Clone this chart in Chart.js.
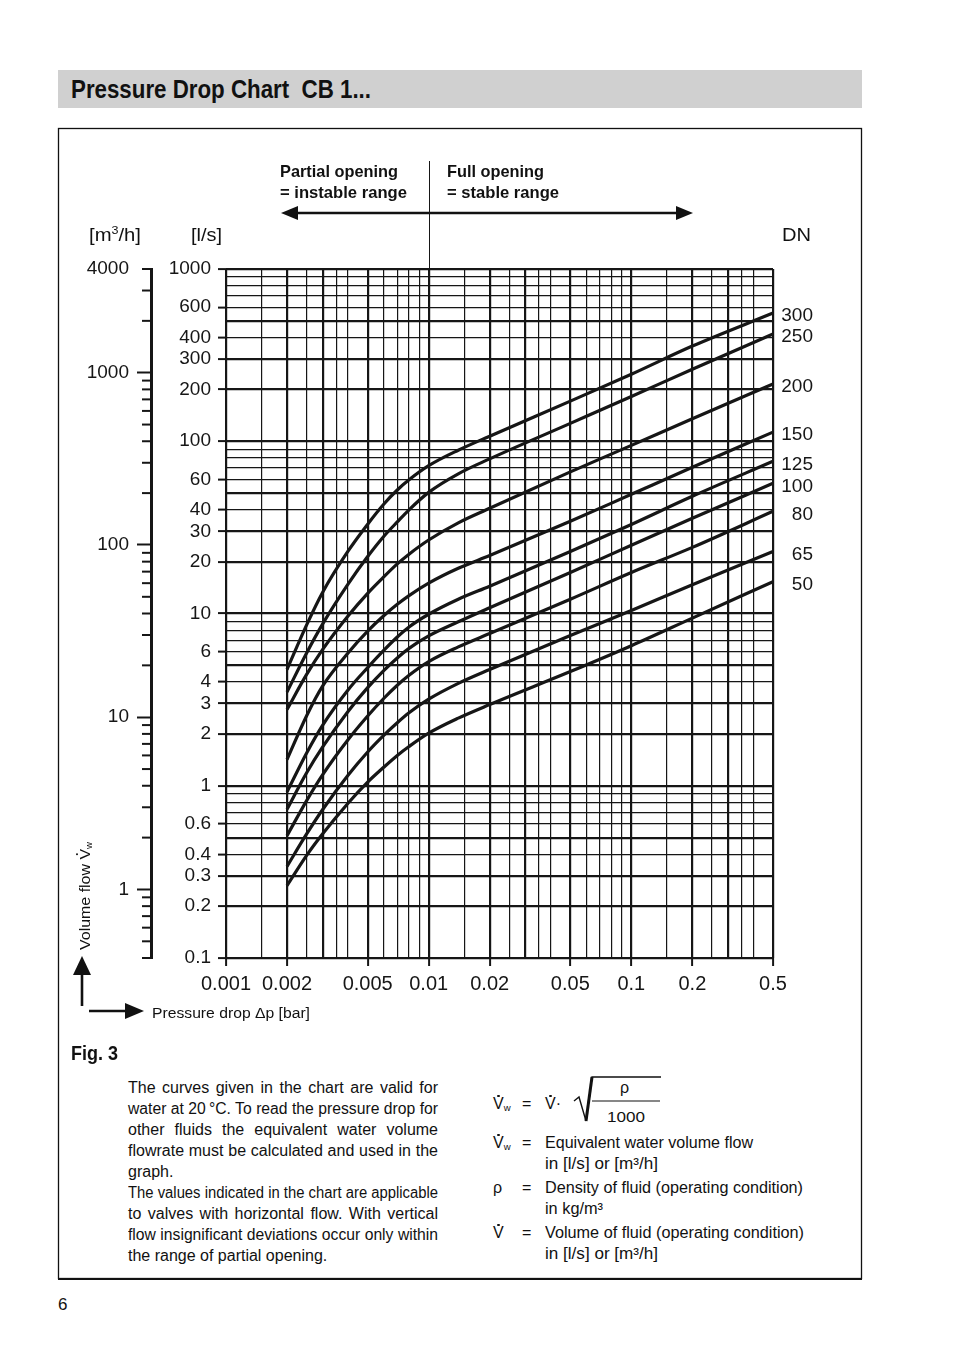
<!DOCTYPE html>
<html>
<head>
<meta charset="utf-8">
<script src="https://cdn.jsdelivr.net/npm/chart.js@4.4.1/dist/chart.umd.min.js"></script>
<style>
html, body { margin: 0; padding: 0; background: #fff; }
body { width: 954px; height: 1352px; position: relative; overflow: hidden;
       font-family: "Liberation Sans", Arial, sans-serif; color: #111; }
#chart { position: absolute; left: 60px; top: 140px; }
#deco { position: absolute; left: 0; top: 0; }
.t { position: absolute; white-space: nowrap; display: inline-block; transform-origin: 0 50%; }
.b { font-weight: bold; }
.j { position: absolute; left: 128px; font-size: 16px; line-height: 20px; transform-origin: 0 50%; }
.rot { position: absolute; white-space: nowrap; transform-origin: 0 0; font-size: 15px; line-height: 17px; }
sub { font-size: 60%; vertical-align: -2px; line-height: 0; }
sup { font-size: 62%; vertical-align: 7px; line-height: 0; }
.vd { position: relative; display: inline-block; }
.vd::after { content: ''; position: absolute; left: 50%; top: 0.5px; width: 2.6px; height: 2.6px;
             margin-left: -1.3px; border-radius: 50%; background: #111; }
.rot .vd::after { top: 0px; width: 2.4px; height: 2.4px; margin-left: -1.2px; }
</style>
</head>
<body>
<svg id="deco" width="954" height="1352">
  <rect x="58" y="70" width="804" height="38" fill="#d0d0d0"/>
  <rect x="58.5" y="128.5" width="803" height="1150" fill="none" stroke="#111" stroke-width="1.3"/>
  <line x1="58" y1="1279" x2="862" y2="1279" stroke="#111" stroke-width="2.2"/>
  <!-- range arrow -->
  <line x1="296" y1="213" x2="678" y2="213" stroke="#111" stroke-width="2.6"/>
  <polygon points="281,213 298,206 298,220" fill="#111"/>
  <polygon points="693,213 676,206 676,220" fill="#111"/>
  <!-- axis arrows -->
  <line x1="82" y1="1006" x2="82" y2="972" stroke="#111" stroke-width="2.6"/>
  <polygon points="82,956 73,975 91,975" fill="#111"/>
  <line x1="89" y1="1011" x2="128" y2="1011" stroke="#111" stroke-width="2.6"/>
  <polygon points="144,1011 125,1003 125,1019" fill="#111"/>
  <!-- radical -->
  <polyline points="574,1101 579,1097 586,1121 592,1077 661,1077" fill="none" stroke="#111" stroke-width="1.4"/>
  <line x1="586" y1="1121" x2="592" y2="1077" stroke="#111" stroke-width="3"/>
  <line x1="592" y1="1101" x2="660" y2="1101" stroke="#111" stroke-width="1.2"/>
</svg>

<canvas id="chart" width="760" height="880"></canvas>

<div class="t b" style="left:71px;top:74px;font-size:26px;line-height:30px" data-w="300">Pressure Drop Chart&nbsp; CB 1...</div>

<div class="t b" style="left:280px;top:162px;font-size:17px;line-height:20px" data-w="118">Partial opening</div>
<div class="t b" style="left:280px;top:183px;font-size:17px;line-height:20px" data-w="127">= instable range</div>
<div class="t b" style="left:447px;top:162px;font-size:17px;line-height:20px" data-w="97">Full opening</div>
<div class="t b" style="left:447px;top:183px;font-size:17px;line-height:20px" data-w="112">= stable range</div>

<div class="t" style="left:89px;top:224px;font-size:19px;line-height:22px" data-w="52">[m<sup>3</sup>/h]</div>
<div class="t" style="left:191px;top:224px;font-size:19px;line-height:22px" data-w="31">[l/s]</div>
<div class="t" style="left:782px;top:224px;font-size:19px;line-height:22px" data-w="29">DN</div>

<div class="rot" id="vflow" style="left:76px;top:950px">Volume flow <span class="vd">V</span><sub>w</sub></div>
<div class="t" style="left:152px;top:1003px;font-size:15.5px;line-height:20px" data-w="158">Pressure drop &Delta;p [bar]</div>
<div class="t b" style="left:71px;top:1041px;font-size:20px;line-height:24px" data-w="47">Fig. 3</div>

<div class="j" style="top:1078px">The curves given in the chart are valid for</div>
<div class="j" style="top:1099px">water at 20&thinsp;°C. To read the pressure drop for</div>
<div class="j" style="top:1120px">other fluids the equivalent water volume</div>
<div class="j" style="top:1141px">flowrate must be calculated and used in the</div>
<div class="j last" style="top:1162px">graph.</div>
<div class="j" style="top:1183px">The values indicated in the chart are applicable</div>
<div class="j" style="top:1204px">to valves with horizontal flow. With vertical</div>
<div class="j" style="top:1225px">flow insignificant deviations occur only within</div>
<div class="j last" style="top:1246px">the range of partial opening.</div>

<div class="t" style="left:493px;top:1094px;font-size:16px;line-height:20px"><span class="vd">V</span><sub>w</sub></div>
<div class="t" style="left:522px;top:1094px;font-size:16px;line-height:20px">=</div>
<div class="t" style="left:545px;top:1094px;font-size:16px;line-height:20px"><span class="vd">V</span>·</div>
<div class="t" style="left:620px;top:1078px;font-size:16px;line-height:20px">ρ</div>
<div class="t" style="left:607px;top:1108px;font-size:15px;line-height:18px" data-w="38">1000</div>

<div class="t" style="left:493px;top:1133px;font-size:16px;line-height:20px"><span class="vd">V</span><sub>w</sub></div>
<div class="t" style="left:522px;top:1133px;font-size:16px;line-height:20px">=</div>
<div class="t" style="left:545px;top:1133px;font-size:16px;line-height:20px" data-w="208">Equivalent water volume flow</div>
<div class="t" style="left:545px;top:1154px;font-size:16px;line-height:20px" data-w="113">in [l/s] or [m³/h]</div>
<div class="t" style="left:493px;top:1178px;font-size:16px;line-height:20px">ρ</div>
<div class="t" style="left:522px;top:1178px;font-size:16px;line-height:20px">=</div>
<div class="t" style="left:545px;top:1178px;font-size:16px;line-height:20px" data-w="258">Density of fluid (operating condition)</div>
<div class="t" style="left:545px;top:1199px;font-size:16px;line-height:20px" data-w="58">in kg/m³</div>
<div class="t" style="left:493px;top:1223px;font-size:16px;line-height:20px"><span class="vd">V</span></div>
<div class="t" style="left:522px;top:1223px;font-size:16px;line-height:20px">=</div>
<div class="t" style="left:545px;top:1223px;font-size:16px;line-height:20px" data-w="259">Volume of fluid (operating condition)</div>
<div class="t" style="left:545px;top:1244px;font-size:16px;line-height:20px" data-w="113">in [l/s] or [m³/h]</div>

<div class="t" style="left:58px;top:1295px;font-size:17px;line-height:20px">6</div>

<script>
// pressure drop [bar] - grid lines and labelled ticks
const dpTicks = [0.001, 0.0015, 0.002, 0.0025, 0.003, 0.0035, 0.004, 0.005, 0.006, 0.007, 0.008, 0.009,
                 0.01, 0.015, 0.02, 0.025, 0.03, 0.035, 0.04, 0.05, 0.06, 0.07, 0.08, 0.09,
                 0.1, 0.15, 0.2, 0.25, 0.3, 0.35, 0.4, 0.5];
const dpLabels = [0.001, 0.002, 0.005, 0.01, 0.02, 0.05, 0.1, 0.2, 0.5];

// volume flow [l/s]
const lsTicks = [0.1, 0.2, 0.3, 0.4, 0.5, 0.6, 0.7, 0.8, 0.9,
                 1, 2, 3, 4, 5, 6, 7, 8, 9,
                 10, 20, 30, 40, 50, 60, 70, 80, 90,
                 100, 200, 300, 400, 500, 600, 700, 800, 900, 1000];
const lsLabels = [0.1, 0.2, 0.3, 0.4, 0.6, 1, 2, 3, 4, 6, 10, 20, 30, 40, 60, 100, 200, 300, 400, 600, 1000];

// volume flow [m3/h]
const m3hTicks = [0.4, 0.5, 0.6, 0.7, 0.8, 0.9,
                  1, 2, 3, 4, 5, 6, 7, 8, 9,
                  10, 20, 30, 40, 50, 60, 70, 80, 90,
                  100, 200, 300, 400, 500, 600, 700, 800, 900,
                  1000, 2000, 3000, 4000];
const m3hLabels = [1, 10, 100, 1000, 4000];
const m3hMajor = [1, 10, 100, 1000];

// curves, flow in l/s read at these pressure drops
const dpPoints = [0.002, 0.0025, 0.003, 0.004, 0.005, 0.006, 0.007, 0.008, 0.01, 0.014, 0.02, 0.05, 0.1, 0.2, 0.5];
const dnNames = ['300', '250', '200', '150', '125', '100', '80', '65', '50'];
const dn300 = [4.73, 8.59, 13.3, 23.0, 33.0, 43.1, 52.1, 59.7, 72.1, 88.7, 107, 171, 245, 357, 555];
const dn250 = [3.5, 5.9, 8.7, 14.8, 21.4, 28.0, 34.0, 40.0, 50.5, 64.7, 79, 127, 182, 262, 419];
const dn200 = [2.77, 4.43, 6.19, 9.68, 13.1, 16.3, 19.4, 22.1, 26.7, 33.6, 40.8, 66.4, 94.6, 135, 215];
const dn150 = [1.42, 2.55, 3.8, 5.9, 7.9, 9.7, 11.3, 12.7, 15.0, 18.3, 21.7, 34.3, 49.2, 70.6, 113];
const dn125 = [0.92, 1.55, 2.25, 3.6, 4.85, 6.1, 7.3, 8.35, 9.9, 12.1, 14.4, 22.9, 32.9, 47.9, 76.5];
const dn100 = [0.73, 1.19, 1.68, 2.70, 3.71, 4.66, 5.52, 6.27, 7.41, 8.95, 10.8, 17.3, 24.9, 35.7, 57.0];
const dn80 = [0.513, 0.82, 1.16, 1.85, 2.54, 3.21, 3.83, 4.38, 5.26, 6.40, 7.65, 12.1, 17.3, 24.2, 39.2];
const dn65 = [0.34, 0.525, 0.728, 1.15, 1.57, 1.96, 2.32, 2.65, 3.18, 3.93, 4.73, 7.45, 10.4, 14.7, 22.9];
const dn50 = [0.263, 0.394, 0.526, 0.792, 1.05, 1.28, 1.50, 1.69, 2.02, 2.47, 2.96, 4.60, 6.5, 9.4, 15.3];
const curves = [dn300, dn250, dn200, dn150, dn125, dn100, dn80, dn65, dn50];

const INK = '#161616';

function inList(list) {
    return v => list.some(t => Math.abs(t - v) / t < 1e-6);
}
const isDpLabel = inList(dpLabels);
const isLsLabel = inList(lsLabels);
const isM3Label = inList(m3hLabels);
const isM3Major = inList(m3hMajor);

function mantissa(v) {
    const e = Math.floor(Math.log10(v) + 1e-9);
    return Math.round(v / Math.pow(10, e) * 10) / 10;
}
function gridWidth(c) {
    if (!c.tick) return 1.2;
    return [1, 2, 3, 5].includes(mantissa(c.tick.value)) ? 2.2 : 1.2;
}
function setTicks(list) {
    return scale => { scale.ticks = list.map(v => ({ value: v })); };
}

// short tick marks of the m3/h scale
const m3hMinor = {
    id: 'm3hMinor',
    afterDraw(chart) {
        const s = chart.scales.y2;
        const ctx = chart.ctx;
        ctx.save();
        ctx.strokeStyle = INK;
        ctx.lineWidth = 2;
        m3hTicks.forEach(v => {
            if (isM3Major(v)) return;
            const y = s.getPixelForValue(v);
            ctx.beginPath();
            ctx.moveTo(s.right - 9, y);
            ctx.lineTo(s.right, y);
            ctx.stroke();
        });
        ctx.restore();
    }
};

// DN names at the curve ends, and the partial / full opening divider
const annotations = {
    id: 'annotations',
    afterDraw(chart) {
        const ctx = chart.ctx;
        ctx.save();
        ctx.fillStyle = INK;
        ctx.font = '19px "Liberation Sans", Arial, sans-serif';
        ctx.textAlign = 'right';
        ctx.textBaseline = 'middle';
        chart.data.datasets.forEach((ds, i) => {
            const pts = chart.getDatasetMeta(i).data;
            const end = pts[pts.length - 1];
            ctx.fillText(ds.label, 753, end.y + 3);
        });
        const x = Math.round(chart.scales.x.getPixelForValue(0.01)) + 0.5;
        ctx.strokeStyle = INK;
        ctx.lineWidth = 1;
        ctx.beginPath();
        ctx.moveTo(x, 21);
        ctx.lineTo(x, chart.chartArea.top);
        ctx.stroke();
        ctx.restore();
    }
};

Chart.defaults.font.family = '"Liberation Sans", Arial, sans-serif';
Chart.defaults.color = INK;

new Chart(document.getElementById('chart').getContext('2d'), {
    type: 'scatter',
    data: {
        datasets: curves.map((vals, i) => ({
            label: dnNames[i],
            data: vals.map((q, k) => ({ x: dpPoints[k], y: q })),
            showLine: true,
            borderColor: INK,
            borderWidth: 3.2,
            pointRadius: 0,
            fill: false,
            cubicInterpolationMode: 'monotone',
            yAxisID: 'y'
        }))
    },
    options: {
        responsive: false,
        animation: false,
        layout: { padding: { left: 0, top: 129, right: 47, bottom: 22 } },
        plugins: { legend: { display: false }, tooltip: { enabled: false } },
        scales: {
            x: {
                type: 'logarithmic',
                min: 0.001,
                max: 0.5,
                afterBuildTicks: setTicks(dpTicks),
                afterFit: s => { s.height = 40; },
                border: { display: false },
                grid: {
                    color: INK,
                    lineWidth: gridWidth,
                    tickLength: 8,
                    tickWidth: 2,
                    tickColor: c => (c.tick && isDpLabel(c.tick.value)) ? INK : 'rgba(0,0,0,0)'
                },
                ticks: {
                    autoSkip: false,
                    maxRotation: 0,
                    minRotation: 0,
                    padding: 6,
                    font: { size: 20 },
                    callback: v => isDpLabel(v) ? String(v) : ''
                }
            },
            y: {
                type: 'logarithmic',
                position: 'left',
                weight: 0,
                min: 0.1,
                max: 1000,
                afterBuildTicks: setTicks(lsTicks),
                afterFit: s => { s.width = 75; },
                border: { display: false },
                grid: {
                    color: INK,
                    lineWidth: gridWidth,
                    tickLength: 8,
                    tickWidth: 2,
                    tickColor: c => (c.tick && isLsLabel(c.tick.value)) ? INK : 'rgba(0,0,0,0)'
                },
                ticks: {
                    autoSkip: false,
                    padding: 7,
                    font: { size: 19 },
                    callback: v => isLsLabel(v) ? String(v) : ''
                }
            },
            y2: {
                type: 'logarithmic',
                position: 'left',
                weight: 1,
                min: 0.4,
                max: 4000,
                afterBuildTicks: setTicks(m3hTicks),
                afterFit: s => { s.width = 91; },
                border: { display: true, width: 3, color: INK },
                grid: {
                    drawOnChartArea: false,
                    color: 'rgba(0,0,0,0)',
                    tickLength: 14,
                    tickWidth: 2,
                    tickColor: c => (c.tick && isM3Major(c.tick.value)) ? INK : 'rgba(0,0,0,0)'
                },
                ticks: {
                    autoSkip: false,
                    padding: 8,
                    font: { size: 19 },
                    callback: v => isM3Label(v) ? String(v) : ''
                }
            }
        }
    },
    plugins: [m3hMinor, annotations]
});

// fit single-line texts to the widths measured on the reference
document.querySelectorAll('[data-w]').forEach(el => {
    const w = el.getBoundingClientRect().width;
    el.style.transform = 'scaleX(' + (+el.dataset.w / w) + ')';
});

// justified paragraph lines, 310px wide
document.querySelectorAll('.j').forEach(el => {
    el.style.whiteSpace = 'nowrap';
    el.style.display = 'inline-block';
    const natural = el.getBoundingClientRect().width;
    const s = Math.min(1, 309.5 / natural);
    el.style.whiteSpace = 'normal';
    el.style.display = 'block';
    if (el.classList.contains('last')) {
        el.style.whiteSpace = 'nowrap';
    } else {
        el.style.width = (310 / s) + 'px';
        el.style.textAlign = 'justify';
        el.style.textAlignLast = 'justify';
    }
    el.style.transform = 'scaleX(' + s + ')';
});

// rotated axis caption
const vf = document.getElementById('vflow');
const vfw = vf.getBoundingClientRect().width;
vf.style.transform = 'rotate(-90deg) scaleX(' + (108 / vfw) + ')';
</script>
</body>
</html>
